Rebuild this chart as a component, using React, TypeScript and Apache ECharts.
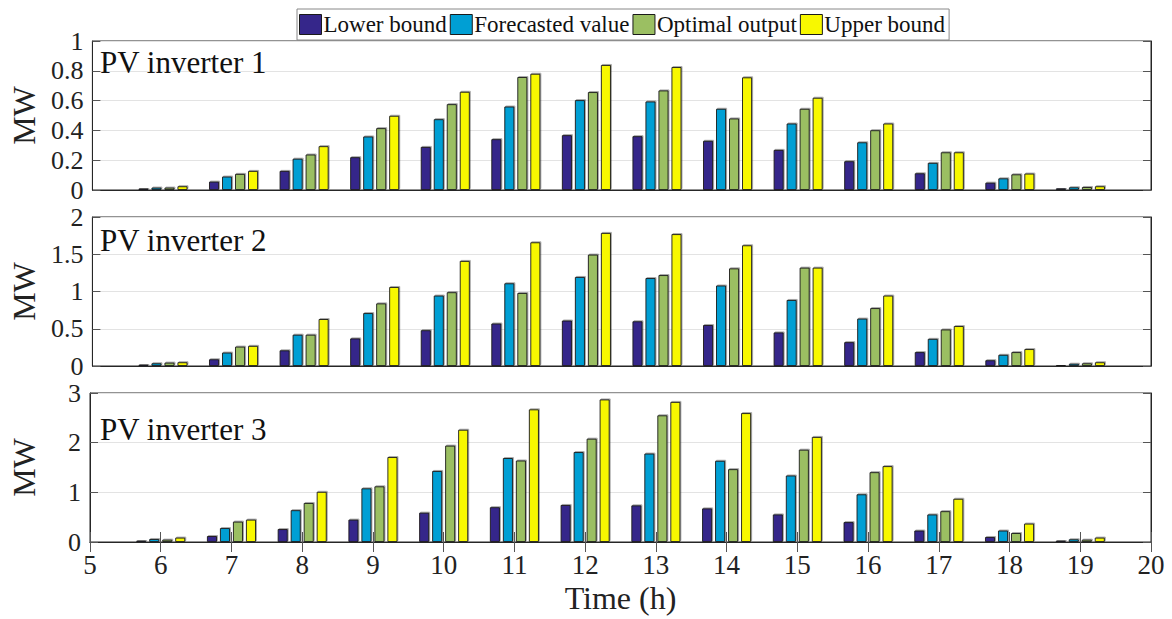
import React, { useEffect, useRef } from "react";
import * as echarts from "echarts";

const hours = [5, 6, 7, 8, 9, 10, 11, 12, 13, 14, 15, 16, 17, 18, 19, 20];
const seriesNames = ["Lower bound", "Forecasted value", "Optimal output", "Upper bound"];
const colors = ["#35268a", "#009fd4", "#9bbf62", "#f8f800"];
const panelTitles = ["PV inverter 1", "PV inverter 2", "PV inverter 3"];

const pv1Lower = [0.002, 0.01, 0.056, 0.128, 0.22, 0.289, 0.341, 0.368, 0.361, 0.33, 0.269, 0.193, 0.112, 0.049, 0.011, 0.002];
const pv1Forecast = [0.002, 0.016, 0.09, 0.21, 0.359, 0.475, 0.56, 0.603, 0.594, 0.545, 0.446, 0.32, 0.182, 0.078, 0.018, 0.002];
const pv1Optimal = [0.002, 0.016, 0.108, 0.238, 0.415, 0.576, 0.758, 0.657, 0.668, 0.48, 0.545, 0.401, 0.253, 0.105, 0.02, 0.002];
const pv1Upper = [0.003, 0.025, 0.128, 0.294, 0.498, 0.659, 0.78, 0.839, 0.825, 0.756, 0.619, 0.446, 0.253, 0.11, 0.025, 0.003];

const pv2Lower = [0.003, 0.018, 0.09, 0.21, 0.37, 0.48, 0.57, 0.61, 0.6, 0.55, 0.45, 0.32, 0.186, 0.077, 0.014, 0.003];
const pv2Forecast = [0.004, 0.036, 0.18, 0.42, 0.71, 0.945, 1.11, 1.195, 1.18, 1.08, 0.886, 0.636, 0.364, 0.15, 0.03, 0.004];
const pv2Optimal = [0.004, 0.045, 0.26, 0.42, 0.84, 0.99, 0.98, 1.495, 1.22, 1.31, 1.32, 0.777, 0.49, 0.186, 0.036, 0.004];
const pv2Upper = [0.005, 0.05, 0.27, 0.63, 1.06, 1.41, 1.66, 1.786, 1.77, 1.62, 1.32, 0.945, 0.536, 0.227, 0.05, 0.005];

const pv3Lower = [0.004, 0.027, 0.12, 0.26, 0.45, 0.59, 0.7, 0.745, 0.737, 0.676, 0.554, 0.4, 0.23, 0.1, 0.027, 0.004];
const pv3Forecast = [0.006, 0.06, 0.28, 0.64, 1.08, 1.43, 1.69, 1.81, 1.78, 1.635, 1.338, 0.96, 0.554, 0.23, 0.054, 0.006];
const pv3Optimal = [0.006, 0.047, 0.41, 0.785, 1.12, 1.94, 1.64, 2.08, 2.55, 1.466, 1.858, 1.405, 0.62, 0.18, 0.047, 0.006];
const pv3Upper = [0.008, 0.088, 0.45, 1.01, 1.71, 2.26, 2.67, 2.87, 2.82, 2.595, 2.115, 1.527, 0.87, 0.37, 0.088, 0.008];

const yMax = [1, 2, 3];
const yInterval = [0.2, 0.5, 1];

const panels = [
  [pv1Lower, pv1Forecast, pv1Optimal, pv1Upper],
  [pv2Lower, pv2Forecast, pv2Optimal, pv2Upper],
  [pv3Lower, pv3Forecast, pv3Optimal, pv3Upper],
];

const FONT = "'Times New Roman', 'Liberation Serif', Tinos, serif";

export default function App() {
  const ref = useRef<HTMLDivElement>(null);
  useEffect(() => {
    if (!ref.current) return;
    const chart = echarts.init(ref.current, null, { renderer: "svg" });
    const gridTops = [41, 217, 393];
    const grids = gridTops.map((t) => ({
      left: 86,
      right: 21,
      top: t,
      height: 149,
      show: true,
      borderColor: "#262626",
      borderWidth: 1,
      backgroundColor: "transparent",
    }));
    const xAxes: any[] = [0, 1, 2].map((i) => ({
      type: "value",
      gridIndex: i,
      min: 5,
      max: 20,
      interval: 1,
      position: "bottom",
      axisLine: { show: true, lineStyle: { color: "#262626", width: 1 } },
      axisTick: { show: i === 2, inside: true, length: 10, lineStyle: { color: "#555" } },
      axisLabel: {
        show: i === 2,
        fontFamily: FONT,
        fontSize: 27,
        color: "#222",
        margin: 9,
      },
      splitLine: { show: false },
      name: i === 2 ? "Time (h)" : "",
      nameLocation: "middle",
      nameGap: 40,
      nameTextStyle: { fontFamily: FONT, fontSize: 32, color: "#222" },
    }));
    xAxes.push({
      type: "value",
      gridIndex: 2,
      min: 5,
      max: 20,
      interval: 1,
      position: "top",
      axisLine: { show: true, lineStyle: { color: "#262626" } },
      axisTick: { show: true, inside: true, length: 10, lineStyle: { color: "#555" } },
      axisLabel: { show: false },
      splitLine: { show: false },
    });
    const yAxes: any[] = [0, 1, 2].map((i) => ({
      type: "value",
      gridIndex: i,
      min: 0,
      max: yMax[i],
      interval: yInterval[i],
      position: "left",
      axisLine: { show: true, lineStyle: { color: "#262626" } },
      axisTick: { show: true, inside: true, length: 8, lineStyle: { color: "#555" } },
      axisLabel: { fontFamily: FONT, fontSize: 26, lineHeight: 22, color: "#222", margin: 9 },
      splitLine: { show: true, lineStyle: { color: "#e3e3e3", width: 1 } },
      name: "MW",
      nameLocation: "middle",
      nameRotate: 90,
      nameGap: 50,
      nameTextStyle: { fontFamily: FONT, fontSize: 32, color: "#222" },
    }));
    [0, 1, 2].forEach((i) =>
      yAxes.push({
        type: "value",
        gridIndex: i,
        min: 0,
        max: yMax[i],
        interval: yInterval[i],
        position: "right",
        axisLine: { show: true, lineStyle: { color: "#262626" } },
        axisTick: { show: true, inside: true, length: 8, lineStyle: { color: "#555" } },
        axisLabel: { show: false },
        splitLine: { show: false },
      })
    );
    const series: any[] = [];
    panels.forEach((panel, p) => {
      panel.forEach((vals, s) => {
        series.push({
          type: "bar",
          name: seriesNames[s],
          xAxisIndex: p,
          yAxisIndex: p,
          barWidth: 10,
          barGap: "30%",
          itemStyle: {
            color: colors[s],
            borderColor: "#1a1a1a",
            borderWidth: 0.9,
            shadowColor: "rgba(0,0,0,0.35)",
            shadowOffsetX: 1,
            shadowOffsetY: -1,
            shadowBlur: 1,
          },
          data: hours.map((h, k) => [h, vals[k]]),
        });
      });
    });
    chart.setOption({
      animation: false,
      backgroundColor: "#fff",
      legend: {
        data: seriesNames,
        left: 297,
        top: 9,
        itemWidth: 22,
        itemHeight: 20,
        itemGap: 3,
        padding: [4, 4, 4, 2],
        borderColor: "#888",
        borderWidth: 1,
        backgroundColor: "#fff",
        icon: "rect",
        itemStyle: { borderColor: "#1a1a1a", borderWidth: 1, shadowBlur: 0, shadowOffsetX: 0, shadowOffsetY: 0 },
        textStyle: { fontFamily: FONT, fontSize: 23, color: "#111", padding: [0, 0, 0, -3] },
        z: 10,
      },
      grid: grids,
      xAxis: xAxes,
      yAxis: yAxes,
      series,
      graphic: panelTitles.map((t, i) => ({
        type: "text",
        left: 100,
        top: [47, 225, 414][i],
        z: 20,
        style: { text: t, font: `31px 'Times New Roman', 'Liberation Serif', serif`, fill: "#111" },
      })),
    });
    return () => chart.dispose();
  }, []);
  return (
    <div
      ref={ref}
      style={{ position: "fixed", left: 0, top: 0, width: 1172, height: 619, background: "#fff" }}
    />
  );
}
